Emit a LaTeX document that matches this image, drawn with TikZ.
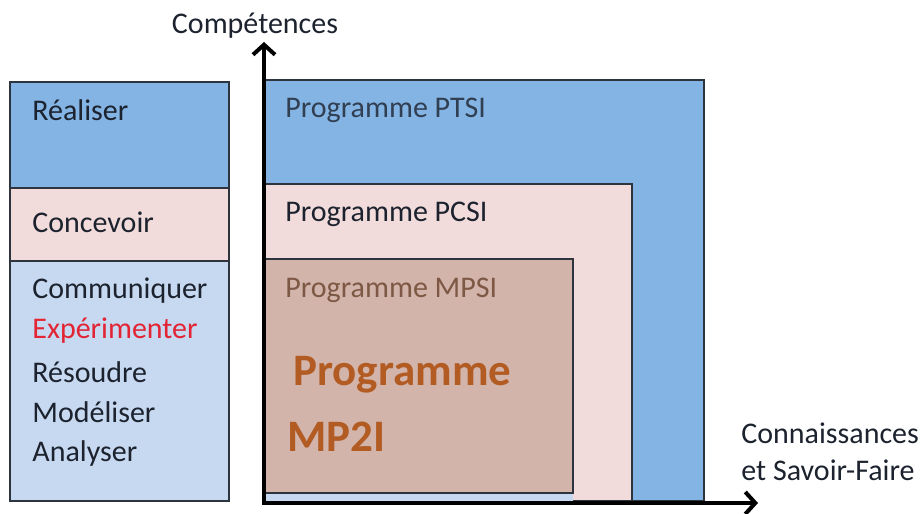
\documentclass[tikz,border=0pt]{standalone}
\usepackage{fontspec}
\setmainfont{Carlito}
\usepackage{tikz}
\usetikzlibrary{positioning, arrows.meta, calc}
\definecolor{cBlue}{RGB}{132,180,228}
\definecolor{cPink}{RGB}{242,220,219}
\definecolor{cBrown}{RGB}{210,180,170}
\definecolor{cLight}{RGB}{198,217,240}
\definecolor{cLine}{RGB}{45,52,62}
\definecolor{cText}{RGB}{28,34,46}
\definecolor{cRed}{RGB}{226,36,52}
\definecolor{cOrange}{RGB}{178,92,36}
\definecolor{cMpsi}{RGB}{125,88,68}

\begin{document}
\begin{tikzpicture}[x=0.5pt, y=-0.5pt,
    box/.style={line width=1pt, draw=cLine},
    lbl/.style={anchor=west, inner sep=0pt, text=cText, font=\fontsize{15}{18}\selectfont},
    axis/.style={line width=2pt, -{Straight Barb[length=5pt, width=11pt]}}]
    \useasboundingbox (0,0) rectangle (924,513);

    % Competences column
    \fill[cBlue] (10,82) rectangle (229,188);
    \fill[cPink] (10,188) rectangle (229,261);
    \fill[cLight] (10,261) rectangle (229,501);
    \draw[box] (10,82) rectangle (229,501);
    \draw[box] (10,188) -- (229,188);
    \draw[box] (10,261) -- (229,261);

    \node[lbl] (real) at (32,110) {Réaliser};
    \node[lbl] (conc) at (32,222) {Concevoir};
    \node[lbl] (comm) at (32,291) {Communiquer};
    \node[lbl, text=cRed] (expe) at (32,331) {Expérimenter};
    \node[lbl] (reso) at (32,372) {Résoudre};
    \node[lbl] (mode) at (32,412) {Modéliser};
    \node[lbl] (anal) at (32,453) {Analyser};

    % Programme boxes
    \draw[box, fill=cBlue] (264,80) rectangle (704,501);
    \draw[box, fill=cPink] (264,184) rectangle (632,501);
    \fill[cLight] (264,259) rectangle (573,501);
    \draw[box, fill=cBrown] (264,259) rectangle (573,493);

    \node[lbl, text=cText!80!cBlue] (ptsi) at (285,110) {Programme PTSI};
    \node[lbl] (pcsi) at (285,214) {Programme PCSI};
    \node[lbl, text=cMpsi] (mpsi) at (285,290) {Programme MPSI};
    \node[lbl, text=cOrange, font=\fontsize{22.5}{26}\selectfont\bfseries] (prog) at (293,375) {Programme};
    \node[lbl, text=cOrange, font=\fontsize{22.5}{26}\selectfont\bfseries] (mp2i) at (287,437) {MP2I};

    % Axes
    \coordinate (O) at (264,503);
    \coordinate (ytip) at (264,42);
    \coordinate (xtip) at (758,503);
    \draw[axis] ($(O)+(0,2)$) -- (ytip);
    \draw[axis] ($(O)+(-2,0)$) -- (xtip);

    \node[lbl, anchor=center] (comp) at (255,26) {Compétences};
    \node[lbl] (conn) at (741,433) {Connaissances};
    \node[lbl] (savo) at (741,470) {et Savoir-Faire};
\end{tikzpicture}
\end{document}
